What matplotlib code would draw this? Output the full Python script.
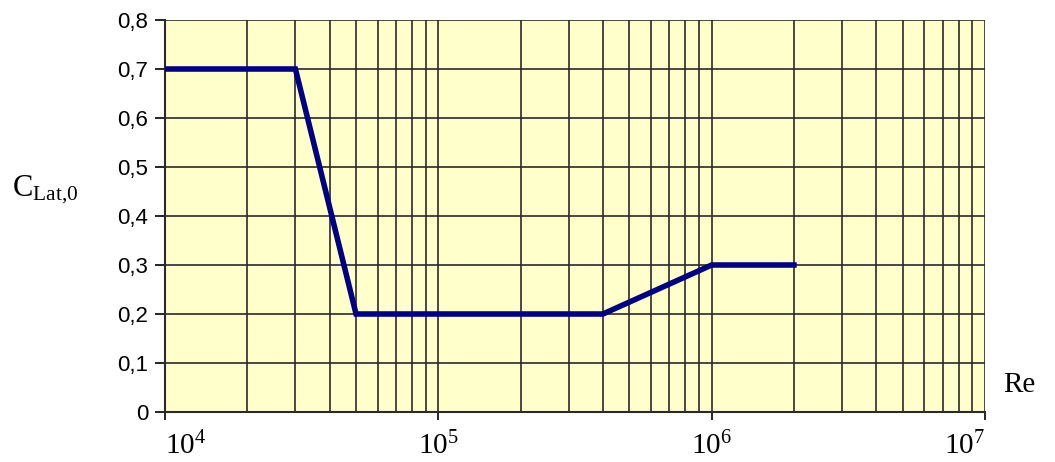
import matplotlib.pyplot as plt
import matplotlib.ticker as mticker
import numpy as np

plt.rcParams['mathtext.fontset'] = 'custom'
plt.rcParams['mathtext.rm'] = 'Liberation Serif'
plt.rcParams['mathtext.it'] = 'Liberation Serif'

# Curve
re_vals = [1e4, 3e4, 5e4, 4e5, 1e6, 2e6]
cl_vals = [0.7, 0.7, 0.2, 0.2, 0.3, 0.3]

x_ticks = [1e4, 1e5, 1e6, 1e7]
x_tick_labels = [r'$\mathrm{10^{4}}$', r'$\mathrm{10^{5}}$', r'$\mathrm{10^{6}}$', r'$\mathrm{10^{7}}$']
y_ticks = [0, 0.1, 0.2, 0.3, 0.4, 0.5, 0.6, 0.7, 0.8]
y_tick_labels = ['0', '0,1', '0,2', '0,3', '0,4', '0,5', '0,6', '0,7', '0,8']

fig = plt.figure(figsize=(10.55, 4.62), dpi=100)
ax = fig.add_axes([165 / 1055, 1 - 412 / 462, 820 / 1055, 392 / 462])
ax.set_facecolor('#FFFFCC')

ax.plot(re_vals, cl_vals, color='#000080', linewidth=4, solid_joinstyle='miter', zorder=3)

ax.set_xscale('log')
ax.set_xlim(1e4, 1e7)
ax.set_ylim(0, 0.8)

ax.xaxis.set_major_locator(mticker.FixedLocator(x_ticks))
ax.xaxis.set_major_formatter(mticker.FixedFormatter(x_tick_labels))
ax.xaxis.set_minor_locator(mticker.LogLocator(base=10, subs=np.arange(2, 10)))
ax.xaxis.set_minor_formatter(mticker.NullFormatter())
ax.set_yticks(y_ticks)
ax.set_yticklabels(y_tick_labels)

ax.grid(True, which='both', axis='x', color='#2a2a2a', linewidth=1.2)
ax.grid(True, which='major', axis='y', color='#2a2a2a', linewidth=1.2)

ax.tick_params(axis='x', which='major', direction='out', length=6, width=1.2,
               labelsize=21, pad=8)
ax.tick_params(axis='x', which='minor', length=0)
ax.tick_params(axis='y', direction='out', length=7, width=1.2, labelsize=16, pad=5)
for lab in ax.get_yticklabels():
    lab.set_fontfamily('Liberation Sans')

xl = ax.get_xticklabels()
xl[0].set_horizontalalignment('left')
xl[-1].set_horizontalalignment('right')

for s in ['left', 'bottom']:
    ax.spines[s].set_color('#2a2a2a')
    ax.spines[s].set_linewidth(1.5)
for s in ['top', 'right']:
    ax.spines[s].set_visible(False)

fig.text(12 / 1055, 1 - 190 / 462, r'$\mathrm{C_{Lat{,}0}}$', fontsize=22, va='center', ha='left')
fig.text(1003 / 1055, 1 - 385 / 462, 'Re', fontsize=21, fontfamily='Liberation Serif',
         va='center', ha='left')

fig.savefig('out.png', dpi=100)
